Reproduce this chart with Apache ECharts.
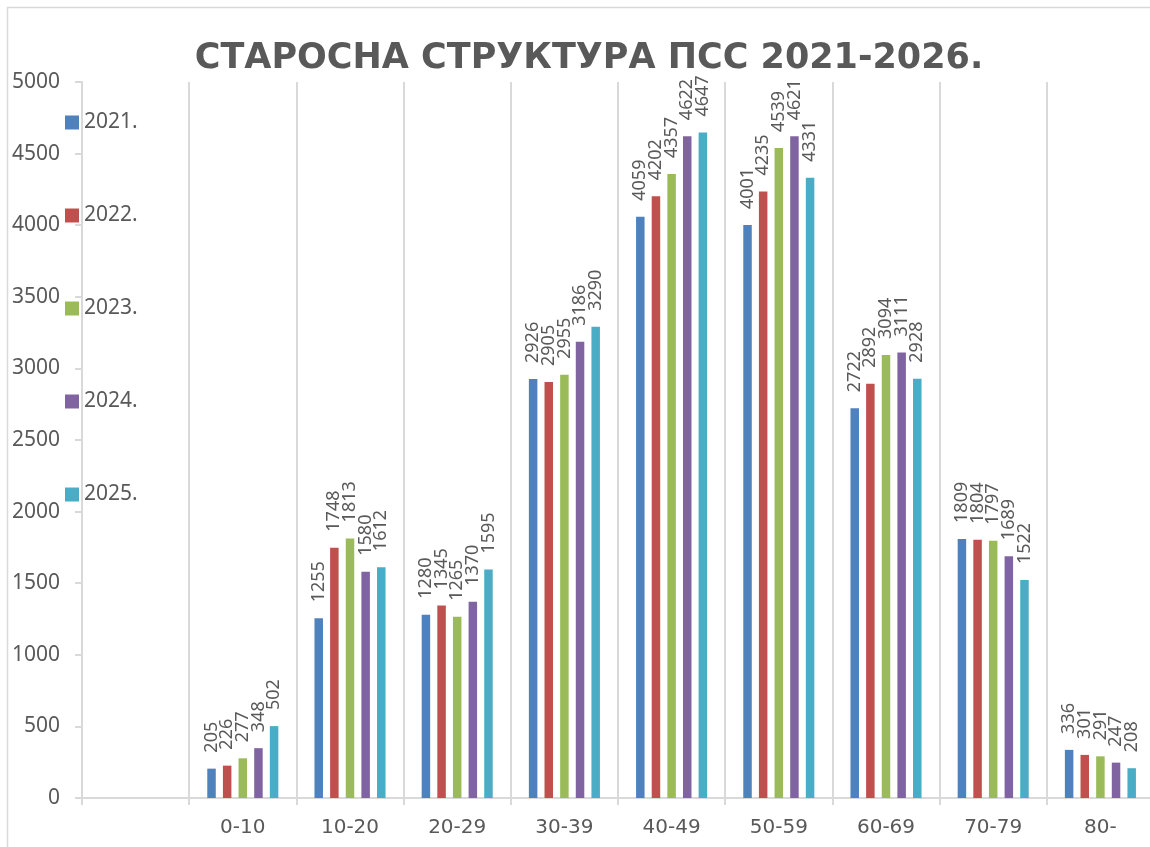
<!DOCTYPE html>
<html>
<head>
<meta charset="utf-8">
<script src="https://cdn.jsdelivr.net/npm/echarts@6/dist/echarts.min.js"></script>
<style>
  html, body { margin: 0; padding: 0; background: #fff; overflow: hidden; }
  #chart { width: 1154px; height: 847px; }
</style>
</head>
<body>
<div id="chart"></div>
<script>
// age groups (first one is the empty slot where the legend sits)
var ageGroups = ['', '0-10', '10-20', '20-29', '30-39', '40-49', '50-59', '60-69', '70-79', '80-'];
var seriesNames = ['2021.', '2022.', '2023.', '2024.', '2025.'];
var colors = ['#4f81bd', '#c0504d', '#9bbb59', '#8064a2', '#4bacc6'];

var y2021 = ['-', 205, 1255, 1280, 2926, 4059, 4001, 2722, 1809, 336];
var y2022 = ['-', 226, 1748, 1345, 2905, 4202, 4235, 2892, 1804, 301];
var y2023 = ['-', 277, 1813, 1265, 2955, 4357, 4539, 3094, 1797, 291];
var y2024 = ['-', 348, 1580, 1370, 3186, 4622, 4621, 3111, 1689, 247];
var y2025 = ['-', 502, 1612, 1595, 3290, 4647, 4331, 2928, 1522, 208];
var allValues = [y2021, y2022, y2023, y2024, y2025];

var gray = '#595959';
var lineGray = '#d9d9d9';

function draw() {
	var series = [];
	for (var i = 0; i < seriesNames.length; i++) {
		series.push({
			name: seriesNames[i],
			type: 'bar',
			data: allValues[i],
			barWidth: 8.5,
			barGap: '84%',
			itemStyle: { color: colors[i] },
			label: {
				show: true,
				position: 'top',
				rotate: 90,
				align: 'left',
				verticalAlign: 'middle',
				distance: 16,
				color: gray,
				fontSize: 18,
				fontFamily: 'Noto Sans'
			}
		});
	}

	var myChart = echarts.init(document.getElementById('chart'));
	var option = {
		animation: false,
		textStyle: { fontFamily: 'Noto Sans' },
		title: {
			text: 'СТАРОСНА СТРУКТУРА ПСС 2021-2026.',
			left: 584,
			top: 36,
			textAlign: 'center',
			textStyle: {
				color: gray,
				fontSize: 35,
				fontWeight: 'bold',
				fontFamily: 'DejaVu Sans'
			}
		},
		legend: {
			orient: 'vertical',
			left: 65,
			top: 112,
			padding: 0,
			itemWidth: 14,
			itemHeight: 14,
			itemGap: 72,
			icon: 'rect',
			data: seriesNames,
			textStyle: { color: gray, fontSize: 21, fontFamily: 'Noto Sans' }
		},
		grid: { left: 82, right: 0, top: 82, bottom: 49 },
		xAxis: {
			type: 'category',
			data: ageGroups,
			axisLine: { lineStyle: { color: lineGray, width: 2 } },
			axisTick: { show: true, length: 7, lineStyle: { color: lineGray, width: 2 } },
			axisLabel: { color: gray, fontSize: 20, margin: 20, fontFamily: 'DejaVu Sans' },
			splitLine: { show: true, interval: 0, lineStyle: { color: lineGray, width: 2 } }
		},
		yAxis: {
			type: 'value',
			min: 0,
			max: 5000,
			interval: 500,
			axisLine: { show: true, lineStyle: { color: lineGray, width: 2 } },
			axisTick: { show: true, length: 7, lineStyle: { color: lineGray, width: 2 } },
			axisLabel: {
				color: gray,
				fontSize: 21,
				margin: 22,
				fontFamily: 'Noto Sans',
				formatter: function (v) { return String(v); }
			},
			splitLine: { show: false }
		},
		graphic: [{
			type: 'rect',
			shape: { x: 7.5, y: 7.5, width: 1200, height: 900 },
			style: { fill: null, stroke: lineGray, lineWidth: 1.5 },
			silent: true
		}],
		series: series
	};
	myChart.setOption(option);
}

// make sure the fonts are ready before the canvas draws text
if (document.fonts && document.fonts.load) {
	Promise.all([
		document.fonts.load('18px "Noto Sans"'),
		document.fonts.load('bold 35px "DejaVu Sans"'),
		document.fonts.load('20px "DejaVu Sans"')
	]).then(draw, draw);
} else {
	draw();
}
</script>
</body>
</html>
